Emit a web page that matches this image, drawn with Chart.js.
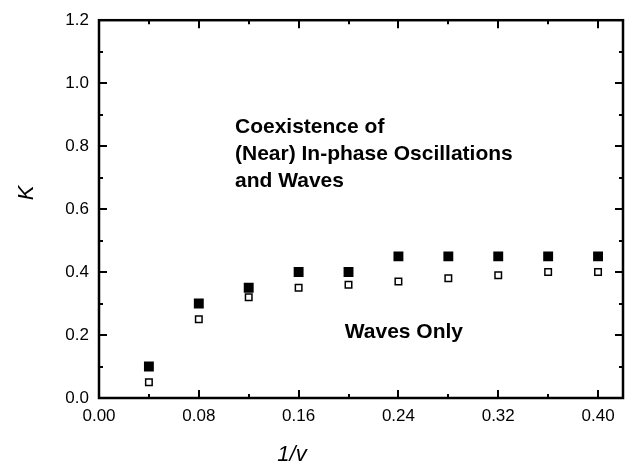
<!DOCTYPE html>
<html>
<head>
<meta charset="utf-8">
<script src="https://cdn.jsdelivr.net/npm/chart.js@4.4.1/dist/chart.umd.min.js"></script>
<style>
  html, body { margin: 0; padding: 0; background: #fff; }
  #wrap { width: 639px; height: 468px; }
</style>
</head>
<body>
<div id="wrap"><canvas id="kChart"></canvas></div>
<script>
// data
const invV = [0.04, 0.08, 0.12, 0.16, 0.20, 0.24, 0.28, 0.32, 0.36, 0.40];
const kFilled = [0.10, 0.30, 0.35, 0.40, 0.40, 0.45, 0.45, 0.45, 0.45, 0.45];
const kOpen = [0.05, 0.25, 0.32, 0.35, 0.36, 0.37, 0.38, 0.39, 0.40, 0.40];
const xTicks = [0.00, 0.08, 0.16, 0.24, 0.32, 0.40];
const yTicks = [0.0, 0.2, 0.4, 0.6, 0.8, 1.0, 1.2];
const coexistLines = ['Coexistence of', '(Near) In-phase Oscillations', 'and Waves'];
const wavesOnly = 'Waves Only';

const FONT = '"Liberation Sans", Arial, Helvetica, sans-serif';

// frame, inward ticks, labels in plot, axis titles
const framePlugin = {
    id: 'frame',
    afterDraw(chart) {
        const ctx = chart.ctx;
        const xs = chart.scales.x, ys = chart.scales.y;
        const { left, right, top, bottom } = chart.chartArea;
        ctx.save();
        ctx.strokeStyle = '#000';
        ctx.lineWidth = 2.5;
        ctx.strokeRect(left, top, right - left, bottom - top);

        ctx.lineWidth = 2;
        ctx.beginPath();
        // x ticks (major + minor di tengah)
        for (let i = 0; i < xTicks.length; i++) {
            const vals = [xTicks[i]];
            if (i < xTicks.length - 1) vals.push((xTicks[i] + xTicks[i + 1]) / 2);
            vals.forEach((v, j) => {
                const len = j === 0 ? 8 : 4;
                const px = Math.round(xs.getPixelForValue(v));
                ctx.moveTo(px, bottom); ctx.lineTo(px, bottom - len);
                ctx.moveTo(px, top); ctx.lineTo(px, top + len);
            });
        }
        for (let i = 0; i < yTicks.length; i++) {
            const vals = [yTicks[i]];
            if (i < yTicks.length - 1) vals.push((yTicks[i] + yTicks[i + 1]) / 2);
            vals.forEach((v, j) => {
                const len = j === 0 ? 8 : 4;
                const py = Math.round(ys.getPixelForValue(v));
                ctx.moveTo(left, py); ctx.lineTo(left + len, py);
                ctx.moveTo(right, py); ctx.lineTo(right - len, py);
            });
        }
        ctx.stroke();

        // teks di dalam plot
        ctx.fillStyle = '#000';
        ctx.font = 'bold 21px ' + FONT;
        ctx.textAlign = 'left';
        ctx.textBaseline = 'alphabetic';
        const ax = xs.getPixelForValue(0.109);
        const ay = ys.getPixelForValue(0.842);
        coexistLines.forEach((t, i) => ctx.fillText(t, ax, ay + i * 27));
        ctx.fillText(wavesOnly, xs.getPixelForValue(0.197), ys.getPixelForValue(0.19));

        // judul sumbu
        ctx.font = 'italic 22px ' + FONT;
        ctx.textAlign = 'center';
        ctx.textBaseline = 'middle';
        ctx.fillText('1/v', 292, 455);
        ctx.save();
        ctx.translate(33, 193);
        ctx.rotate(-Math.PI / 2);
        ctx.textBaseline = 'alphabetic';
        ctx.fillText('K', 0, 0);
        ctx.restore();
        ctx.restore();
    }
};

new Chart(document.getElementById('kChart'), {
    type: 'scatter',
    data: {
        datasets: [
            {
                label: 'filled',
                data: invV.map((x, i) => ({ x, y: kFilled[i] })),
                pointStyle: 'rect',
                pointRadius: 7,
                backgroundColor: '#000',
                borderColor: '#000',
                borderWidth: 0
            },
            {
                label: 'open',
                data: invV.map((x, i) => ({ x, y: kOpen[i] })),
                pointStyle: 'rect',
                pointRadius: 4.6,
                backgroundColor: '#fff',
                borderColor: '#000',
                borderWidth: 1.5
            }
        ]
    },
    options: {
        responsive: true,
        maintainAspectRatio: false,
        animation: false,
        layout: { padding: { top: 12, right: 16, left: 0, bottom: 0 } },
        plugins: { legend: { display: false }, tooltip: { enabled: false } },
        scales: {
            x: {
                type: 'linear', min: 0, max: 0.42,
                grid: { display: false, drawTicks: false },
                border: { display: false },
                afterBuildTicks: (s) => { s.ticks = xTicks.map(v => ({ value: v })); },
                afterFit: (s) => { s.height = 70; },
                ticks: {
                    padding: 8, color: '#000', maxRotation: 0,
                    font: { family: FONT, size: 17 },
                    callback: (v) => v.toFixed(2)
                }
            },
            y: {
                type: 'linear', min: 0, max: 1.2,
                grid: { display: false, drawTicks: false },
                border: { display: false },
                afterBuildTicks: (s) => { s.ticks = yTicks.map(v => ({ value: v })); },
                afterFit: (s) => { s.width = 99; },
                ticks: {
                    padding: 10, color: '#000',
                    font: { family: FONT, size: 17 },
                    callback: (v) => v.toFixed(1)
                }
            }
        }
    },
    plugins: [framePlugin]
});
</script>
</body>
</html>
